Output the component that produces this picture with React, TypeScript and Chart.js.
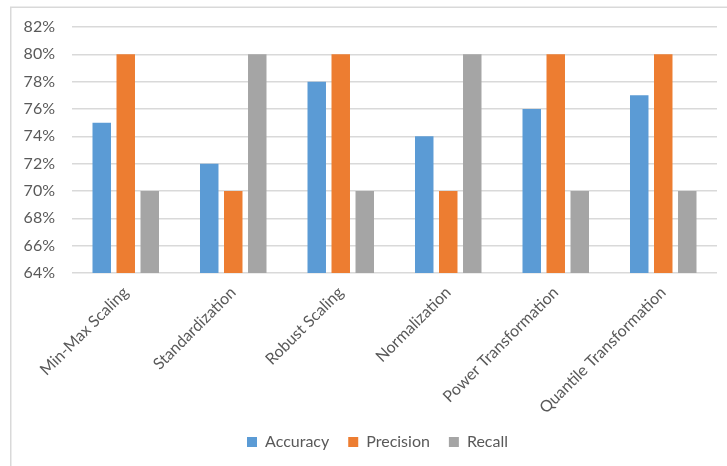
import React, { useEffect, useRef } from "react";
import { Chart, registerables } from "chart.js";

Chart.register(...registerables);

const categories = [
  "Min-Max Scaling",
  "Standardization",
  "Robust Scaling",
  "Normalization",
  "Power Transformation",
  "Quantile Transformation",
];
const accuracy = [75, 72, 78, 74, 76, 77];
const precision = [80, 70, 80, 70, 80, 80];
const recall = [70, 80, 70, 80, 70, 70];
const yMin = 64;
const yMax = 82;
const yStep = 2;

const FONT = "Lato, 'Open Sans', sans-serif";
const TEXT = "#595959";
const GRID = "#d9d9d9";

const framePlugin = {
  id: "frame",
  afterLayout(chart: any) {
    if (chart.legend) chart.legend.left = 38;
  },
  beforeDraw(chart: any) {
    const ctx = chart.ctx;
    ctx.save();
    ctx.fillStyle = "#ffffff";
    ctx.fillRect(0, 0, chart.width, chart.height);
    ctx.strokeStyle = GRID;
    ctx.lineWidth = 1.5;
    ctx.beginPath();
    ctx.moveTo(10.75, chart.height);
    ctx.lineTo(10.75, 7.25);
    ctx.lineTo(chart.width, 7.25);
    ctx.stroke();
    ctx.restore();
  },
};

export default function App() {
  const ref = useRef<HTMLCanvasElement | null>(null);

  useEffect(() => {
    if (!ref.current) return;
    const chart = new Chart(ref.current, {
      type: "bar",
      data: {
        labels: categories,
        datasets: [
          { label: "Accuracy", data: accuracy, backgroundColor: "#5B9BD5" },
          { label: "Precision", data: precision, backgroundColor: "#ED7D31" },
          { label: "Recall", data: recall, backgroundColor: "#A5A5A5" },
        ],
      },
      options: {
        responsive: false,
        animation: false,
        layout: { padding: { top: 27, right: 10, bottom: 6, left: 0 } },
        datasets: {
          bar: { categoryPercentage: 0.67, barPercentage: 0.77 },
        },
        plugins: {
          legend: {
            position: "bottom",
            labels: {
              boxWidth: 10,
              boxHeight: 10,
              padding: 19,
              color: TEXT,
              font: { family: FONT, size: 16 },
            },
          },
          tooltip: { enabled: false },
        },
        scales: {
          x: {
            grid: { display: false, drawTicks: false },
            border: { display: false },
            ticks: {
              color: TEXT,
              font: { family: FONT, size: 16 },
              minRotation: 45,
              maxRotation: 45,
              autoSkip: false,
              padding: 10,
            },
            afterFit(scale: any) {
              scale.height = 142;
            },
          },
          y: {
            min: yMin,
            max: yMax,
            grid: { color: GRID, lineWidth: 1.5, drawTicks: false },
            border: { display: false },
            ticks: {
              stepSize: yStep,
              color: TEXT,
              font: { family: FONT, size: 16 },
              padding: 17,
              callback: (v: any) => v + "%",
            },
            afterFit(scale: any) {
              scale.width = 72;
            },
          },
        },
      },
      plugins: [framePlugin],
    });
    return () => chart.destroy();
  }, []);

  return (
    <div style={{ position: "fixed", left: 0, top: 0, width: 727, height: 466, background: "#fff" }}>
      <canvas ref={ref} width={727} height={466} />
    </div>
  );
}
